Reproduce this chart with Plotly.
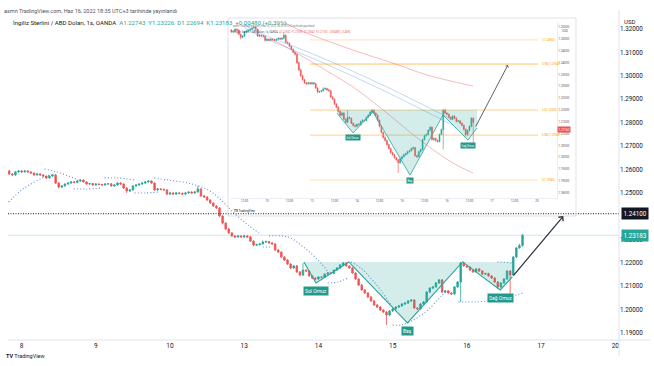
import plotly.graph_objects as go

W, H = 654, 366

# ---------------- data (hourly GBP/USD, bar 0 = Jun 8 00:00) ----------------
bars = list(range(-4, 163))
opens = [1.2593, 1.2580, 1.2576, 1.2589, 1.2593, 1.2589, 1.2593, 1.2589, 1.2584, 1.2576,
         1.2580, 1.2576, 1.2571, 1.2563, 1.2571, 1.2576, 1.2541, 1.2524, 1.2529, 1.2537,
         1.2541, 1.2546, 1.2544, 1.2550, 1.2554, 1.2546, 1.2537, 1.2539, 1.2533, 1.2537,
         1.2535, 1.2533, 1.2537, 1.2538, 1.2529, 1.2533, 1.2541, 1.2537, 1.2520, 1.2507,
         1.2512, 1.2529, 1.2533, 1.2537, 1.2541, 1.2546, 1.2550, 1.2541, 1.2512, 1.2516,
         1.2514, 1.2512, 1.2494, 1.2499, 1.2494, 1.2499, 1.2497, 1.2494, 1.2499, 1.2503,
         1.2499, 1.2503, 1.2516, 1.2486, 1.2482, 1.2469, 1.2456, 1.2443, 1.2435, 1.2400,
         1.2370, 1.2345, 1.2328, 1.2315, 1.2311, 1.2315, 1.2311, 1.2315, 1.2311, 1.2293,
         1.2276, 1.2278, 1.2281, 1.2289, 1.2291, 1.2285, 1.2281, 1.2255, 1.2246, 1.2225,
         1.2212, 1.2195, 1.2178, 1.2187, 1.2161, 1.2148, 1.2169, 1.2165, 1.2144, 1.2135,
         1.2131, 1.2140, 1.2138, 1.2152, 1.2157, 1.2155, 1.2169, 1.2178, 1.2191, 1.2199,
         1.2187, 1.2178, 1.2157, 1.2131, 1.2105, 1.2084, 1.2071, 1.2054, 1.2037, 1.2020,
         1.2011, 1.1998, 1.1990, 1.1977, 1.1994, 1.2003, 1.2011, 1.2016, 1.2024, 1.2028,
         1.2037, 1.2041, 1.2007, 1.2003, 1.2024, 1.2033, 1.2075, 1.2092, 1.2097, 1.2114,
         1.2127, 1.2075, 1.2080, 1.2071, 1.2067, 1.2097, 1.2118, 1.2199, 1.2187, 1.2182,
         1.2169, 1.2161, 1.2174, 1.2165, 1.2152, 1.2154, 1.2144, 1.2135, 1.2118, 1.2097,
         1.2114, 1.2131, 1.2165, 1.2148, 1.2225, 1.2264, 1.22743]
highs = [1.2598, 1.2584, 1.2593, 1.2597, 1.2597, 1.2596, 1.2596, 1.2592, 1.2587, 1.2584,
         1.2583, 1.2579, 1.2574, 1.2575, 1.2580, 1.2579, 1.2545, 1.2533, 1.2540, 1.2545,
         1.2550, 1.2549, 1.2553, 1.2558, 1.2557, 1.2549, 1.2542, 1.2542, 1.2540, 1.2540,
         1.2538, 1.2541, 1.2541, 1.2541, 1.2536, 1.2545, 1.2545, 1.2540, 1.2523, 1.2516,
         1.2532, 1.2537, 1.2540, 1.2545, 1.2550, 1.2554, 1.2553, 1.2544, 1.2520, 1.2519,
         1.2518, 1.2515, 1.2503, 1.2502, 1.2502, 1.2502, 1.2500, 1.2502, 1.2506, 1.2506,
         1.2507, 1.2529, 1.2519, 1.2490, 1.2485, 1.2472, 1.2459, 1.2447, 1.2438, 1.2404,
         1.2374, 1.2349, 1.2332, 1.2319, 1.2318, 1.2318, 1.2319, 1.2319, 1.2315, 1.2296,
         1.2282, 1.2285, 1.2296, 1.2295, 1.2294, 1.2289, 1.2284, 1.2259, 1.2249, 1.2229,
         1.2216, 1.2199, 1.2191, 1.2191, 1.2165, 1.2199, 1.2173, 1.2168, 1.2148, 1.2139,
         1.2143, 1.2144, 1.2155, 1.2160, 1.2161, 1.2172, 1.2182, 1.2195, 1.2204, 1.2203,
         1.2190, 1.2182, 1.2160, 1.2134, 1.2109, 1.2088, 1.2075, 1.2058, 1.2041, 1.2024,
         1.2015, 1.2002, 1.1994, 1.1998, 1.2007, 1.2015, 1.2020, 1.2028, 1.2032, 1.2041,
         1.2045, 1.2044, 1.2011, 1.2028, 1.2037, 1.2079, 1.2096, 1.2101, 1.2118, 1.2131,
         1.2131, 1.2084, 1.2084, 1.2075, 1.2101, 1.2122, 1.2204, 1.2206, 1.2191, 1.2186,
         1.2173, 1.2178, 1.2178, 1.2169, 1.2158, 1.2158, 1.2148, 1.2139, 1.2122, 1.2118,
         1.2135, 1.2169, 1.2169, 1.2229, 1.2268, 1.2282, 1.23226]
lows = [1.2576, 1.2571, 1.2572, 1.2586, 1.2585, 1.2586, 1.2586, 1.2581, 1.2572, 1.2573,
        1.2572, 1.2567, 1.2559, 1.2560, 1.2568, 1.2537, 1.2518, 1.2520, 1.2526, 1.2534,
        1.2538, 1.2541, 1.2541, 1.2547, 1.2543, 1.2534, 1.2534, 1.2530, 1.2530, 1.2532,
        1.2530, 1.2530, 1.2534, 1.2526, 1.2525, 1.2530, 1.2534, 1.2516, 1.2498, 1.2503,
        1.2509, 1.2526, 1.2530, 1.2534, 1.2538, 1.2543, 1.2538, 1.2508, 1.2508, 1.2510,
        1.2508, 1.2490, 1.2490, 1.2491, 1.2491, 1.2493, 1.2490, 1.2491, 1.2496, 1.2496,
        1.2496, 1.2500, 1.2482, 1.2478, 1.2465, 1.2452, 1.2439, 1.2430, 1.2395, 1.2364,
        1.2340, 1.2323, 1.2310, 1.2306, 1.2307, 1.2307, 1.2306, 1.2307, 1.2289, 1.2271,
        1.2272, 1.2274, 1.2278, 1.2285, 1.2281, 1.2277, 1.2251, 1.2242, 1.2221, 1.2208,
        1.2191, 1.2173, 1.2174, 1.2157, 1.2143, 1.2144, 1.2161, 1.2140, 1.2130, 1.2126,
        1.2127, 1.2134, 1.2135, 1.2148, 1.2151, 1.2152, 1.2166, 1.2175, 1.2187, 1.2183,
        1.2174, 1.2153, 1.2127, 1.2101, 1.2080, 1.2067, 1.2050, 1.2033, 1.2016, 1.2007,
        1.1994, 1.1985, 1.1934, 1.1972, 1.1990, 1.1999, 1.2007, 1.2012, 1.2020, 1.2024,
        1.2033, 1.2003, 1.1998, 1.2000, 1.2020, 1.2030, 1.2071, 1.2088, 1.2093, 1.2110,
        1.2071, 1.2071, 1.2067, 1.2062, 1.2063, 1.2093, 1.2033, 1.2183, 1.2178, 1.2165,
        1.2157, 1.2157, 1.2161, 1.2148, 1.2148, 1.2140, 1.2131, 1.2114, 1.2088, 1.2093,
        1.2110, 1.2127, 1.2054, 1.2144, 1.2221, 1.2260, 1.22694]
closes = [1.2580, 1.2576, 1.2589, 1.2593, 1.2589, 1.2593, 1.2589, 1.2584, 1.2576, 1.2580,
          1.2576, 1.2571, 1.2563, 1.2571, 1.2576, 1.2541, 1.2524, 1.2529, 1.2537, 1.2541,
          1.2546, 1.2544, 1.2550, 1.2554, 1.2546, 1.2537, 1.2539, 1.2533, 1.2537, 1.2535,
          1.2533, 1.2537, 1.2538, 1.2529, 1.2533, 1.2541, 1.2537, 1.2520, 1.2507, 1.2512,
          1.2529, 1.2533, 1.2537, 1.2541, 1.2546, 1.2550, 1.2541, 1.2512, 1.2516, 1.2514,
          1.2512, 1.2494, 1.2499, 1.2494, 1.2499, 1.2497, 1.2494, 1.2499, 1.2503, 1.2499,
          1.2503, 1.2516, 1.2486, 1.2482, 1.2469, 1.2456, 1.2443, 1.2435, 1.2400, 1.2370,
          1.2345, 1.2328, 1.2315, 1.2311, 1.2315, 1.2311, 1.2315, 1.2311, 1.2293, 1.2276,
          1.2278, 1.2281, 1.2289, 1.2291, 1.2285, 1.2281, 1.2255, 1.2246, 1.2225, 1.2212,
          1.2195, 1.2178, 1.2187, 1.2161, 1.2148, 1.2169, 1.2165, 1.2144, 1.2135, 1.2131,
          1.2140, 1.2138, 1.2152, 1.2157, 1.2155, 1.2169, 1.2178, 1.2191, 1.2199, 1.2187,
          1.2178, 1.2157, 1.2131, 1.2105, 1.2084, 1.2071, 1.2054, 1.2037, 1.2020, 1.2011,
          1.1998, 1.1990, 1.1977, 1.1994, 1.2003, 1.2011, 1.2016, 1.2024, 1.2028, 1.2037,
          1.2041, 1.2007, 1.2003, 1.2024, 1.2033, 1.2075, 1.2092, 1.2097, 1.2114, 1.2127,
          1.2075, 1.2080, 1.2071, 1.2067, 1.2097, 1.2118, 1.2199, 1.2187, 1.2182, 1.2169,
          1.2161, 1.2174, 1.2165, 1.2152, 1.2154, 1.2144, 1.2135, 1.2118, 1.2097, 1.2114,
          1.2131, 1.2165, 1.2148, 1.2225, 1.2264, 1.22743, 1.23183]

day_ticks = [0, 24, 48, 72, 96, 120, 144, 168, 192]
day_labels = ["8", "9", "10", "13", "14", "15", "16", "17", "20"]
price_ticks = [1.19, 1.20, 1.21, 1.22, 1.23, 1.25, 1.26, 1.27, 1.28, 1.29, 1.30, 1.31, 1.32]

# parabolic-SAR style dotted segments (bar, price)
sar_segments = [
    [(-4.2, 1.2460), (0, 1.2512), (4.2, 1.2546), (7.4, 1.2567), (9.7, 1.2580)],
    [(7.4, 1.2601), (11.3, 1.2589), (15.2, 1.2571), (18.4, 1.2554)],
    [(16.8, 1.2516), (21, 1.2516), (25.8, 1.2520)],
    [(26.8, 1.2563), (31.3, 1.2563), (36.5, 1.2554)],
    [(36.5, 1.2499), (40.3, 1.2499), (44.2, 1.2503)],
    [(42.9, 1.2563), (47.4, 1.2554), (53.9, 1.2541), (60.3, 1.2512), (64.5, 1.2469),
     (68.7, 1.2413), (73.2, 1.2362), (76.8, 1.2328)],
    [(78, 1.2268), (80.6, 1.2268)],
    [(80, 1.2315), (83.9, 1.2315), (87.1, 1.2306), (90.3, 1.2276), (93.5, 1.2242),
     (96.8, 1.2199), (99.4, 1.2157)],
    [(99, 1.2114), (102.3, 1.2118), (105.5, 1.2135)],
    [(106.5, 1.2204), (109.7, 1.2178), (112.9, 1.2135), (116.1, 1.2084), (119.4, 1.2020)],
    [(120, 1.1934), (122.6, 1.1934), (126.8, 1.1956), (131.3, 1.1998), (135.5, 1.2054),
     (137.7, 1.2084)],
    [(141.3, 1.2033), (146.8, 1.2033), (152.6, 1.2041), (157.4, 1.2054), (162.3, 1.2071)],
    [(153.9, 1.2204), (158.7, 1.2199)],
]

# inverse head & shoulders (main chart)
hs_bars = [91.3, 95.2, 105.8, 124.8, 142.6, 154.8, 158.7]
hs_prices = [1.2204, 1.2114, 1.2204, 1.1943, 1.2204, 1.2084, 1.2140]
hs_neck = 1.2204
hs_label_text = ["Sol Omuz", "Baş", "Sağ Omuz"]
target_price = 1.24100
arrow_tip = (175.2, 1.2400)
last_price = 1.23183

# ---------------- inset (earlier snapshot of the same chart) ----------------
inset_first, inset_last = 28, 158
ins_hs_bars = [85.3, 93.9, 104.5, 124.3, 141.9, 155.2, 160.0]
ins_hs_prices = [1.2187, 1.2103, 1.2192, 1.1925, 1.2179, 1.2073, 1.2124]
ins_neck = 1.2200
ma_slow_bars = [55, 64, 93.9, 115.2, 133.3, 157.9]
ma_slow_prices = [1.2580, 1.2542, 1.2453, 1.2398, 1.2348, 1.2301]
ma_fast_bars = [50, 56.5, 76.3, 93.9, 112, 129.6, 147.2, 157.9]
ma_fast_prices = [1.2500, 1.2474, 1.2382, 1.2297, 1.2187, 1.2073, 1.1976, 1.1934]
blue1_bars = [36, 44.3, 76.3, 112, 147.2]
blue1_prices = [1.2560, 1.2525, 1.2424, 1.2297, 1.2158]
blue2_bars = [36, 44.3, 76.3, 112, 147.2]
blue2_prices = [1.2548, 1.2512, 1.2405, 1.2275, 1.2135]
fib_levels = [1.2496, 1.2394, 1.2200, 1.2094, 1.1904]
fib_labels = ["1(1.24960)", "0.786(1.23940)", "0.5(1.22000)", "0.382(1.20940)", "0(1.19040)"]
fib_start, fib_end = 70.9, 192.5
ins_tick_bars = [36, 48, 60, 72, 84, 96, 108, 120, 132, 144, 156, 168, 180, 192]
ins_tick_labels = ["12:00", "10", "12:00", "13", "12:00", "14", "12:00", "15", "12:00",
                   "16", "12:00", "17", "12:00", "20"]
ins_price_ticks = [1.185, 1.19, 1.195, 1.20, 1.205, 1.21, 1.215, 1.22, 1.225, 1.23,
                   1.235, 1.24, 1.245, 1.25, 1.255]
ins_arrow = ((158.9, 1.2124), (176.5, 1.2390))
ins_last_price = 1.2116

GREEN = "#26a69a"
RED = "#ef5350"
TXT = "#131722"
FONT = "Roboto"


def dom_x(a, b):
    return [a / W, b / W]


def dom_y(top, bottom):
    return [1 - bottom / H, 1 - top / H]


fig = go.Figure()

# ---- main chart ----
fig.add_trace(go.Candlestick(
    x=bars, open=opens, high=highs, low=lows, close=closes,
    increasing=dict(line=dict(color=GREEN, width=0.8), fillcolor=GREEN),
    decreasing=dict(line=dict(color=RED, width=0.8), fillcolor=RED),
    whiskerwidth=0, showlegend=False, hoverinfo="skip", xaxis="x", yaxis="y"))

sx, sy = [], []
for seg in sar_segments:
    for b, p in seg:
        sx.append(b)
        sy.append(p)
    sx.append(None)
    sy.append(None)
fig.add_trace(go.Scatter(x=sx, y=sy, mode="lines",
                         line=dict(color="#3d6fe0", width=1.1, dash="1px,2.2px", shape="spline"),
                         opacity=0.8, showlegend=False, hoverinfo="skip", xaxis="x", yaxis="y"))

fig.add_trace(go.Scatter(x=hs_bars + [hs_bars[-1], hs_bars[0]],
                         y=hs_prices + [hs_neck, hs_neck], mode="lines", fill="toself",
                         fillcolor="rgba(38,166,154,0.20)", line=dict(width=0),
                         showlegend=False, hoverinfo="skip", xaxis="x", yaxis="y"))
fig.add_trace(go.Scatter(x=hs_bars, y=hs_prices, mode="lines", line=dict(color=GREEN, width=1.1),
                         showlegend=False, hoverinfo="skip", xaxis="x", yaxis="y"))

# ---- inset chart ----
i0 = bars.index(inset_first)
i1 = bars.index(inset_last) + 1
for lv, col in zip(fib_levels, ["rgba(255,152,0,0.35)", "rgba(255,152,0,0.75)", "rgba(255,152,0,0.6)",
                                 "rgba(255,152,0,0.6)", "rgba(255,152,0,0.35)"]):
    fig.add_trace(go.Scatter(x=[fib_start, fib_end], y=[lv, lv], mode="lines", line=dict(color=col, width=0.8),
                             showlegend=False, hoverinfo="skip", xaxis="x2", yaxis="y2"))
fig.add_trace(go.Scatter(x=ma_slow_bars, y=ma_slow_prices, mode="lines",
                         line=dict(color="rgba(239,83,80,0.5)", width=0.8, shape="spline"),
                         showlegend=False, hoverinfo="skip", xaxis="x2", yaxis="y2"))
fig.add_trace(go.Scatter(x=ma_fast_bars, y=ma_fast_prices, mode="lines",
                         line=dict(color="rgba(239,83,80,0.5)", width=0.8, shape="spline"),
                         showlegend=False, hoverinfo="skip", xaxis="x2", yaxis="y2"))
fig.add_trace(go.Scatter(x=blue1_bars, y=blue1_prices, mode="lines",
                         line=dict(color="rgba(100,160,230,0.5)", width=0.8, shape="spline"),
                         showlegend=False, hoverinfo="skip", xaxis="x2", yaxis="y2"))
fig.add_trace(go.Scatter(x=blue2_bars, y=blue2_prices, mode="lines",
                         line=dict(color="rgba(100,160,230,0.5)", width=0.8, shape="spline"),
                         showlegend=False, hoverinfo="skip", xaxis="x2", yaxis="y2"))
fig.add_trace(go.Scatter(x=ins_hs_bars + [ins_hs_bars[-1], ins_hs_bars[0]],
                         y=ins_hs_prices + [ins_neck, ins_neck], mode="lines", fill="toself",
                         fillcolor="rgba(38,166,154,0.20)", line=dict(width=0),
                         showlegend=False, hoverinfo="skip", xaxis="x2", yaxis="y2"))
fig.add_trace(go.Scatter(x=ins_hs_bars, y=ins_hs_prices, mode="lines", line=dict(color=GREEN, width=0.8),
                         showlegend=False, hoverinfo="skip", xaxis="x2", yaxis="y2"))
fig.add_trace(go.Candlestick(
    x=bars[i0:i1], open=opens[i0:i1], high=highs[i0:i1], low=lows[i0:i1], close=closes[i0:i1],
    increasing=dict(line=dict(color=GREEN, width=0.6), fillcolor=GREEN),
    decreasing=dict(line=dict(color=RED, width=0.6), fillcolor=RED),
    whiskerwidth=0, showlegend=False, hoverinfo="skip", xaxis="x2", yaxis="y2"))

annotations = []
shapes = []

# main overlays
shapes.append(dict(type="line", xref="x", yref="y", x0=-4.4, x1=193.2, y0=target_price, y1=target_price,
                   line=dict(color=TXT, width=1, dash="1px,1.5px")))
shapes.append(dict(type="line", xref="x", yref="y", x0=-4.4, x1=193.2, y0=last_price, y1=last_price,
                   line=dict(color="rgba(38,166,154,0.25)", width=1)))
annotations.append(dict(x=arrow_tip[0], y=arrow_tip[1], ax=hs_bars[-1], ay=hs_prices[-1],
                        xref="x", yref="y", axref="x", ayref="y", showarrow=True, arrowhead=4,
                        arrowsize=1, arrowwidth=1.2, arrowcolor="#2a2e39", text=""))
for k, idx in enumerate([1, 3, 5]):
    annotations.append(dict(x=hs_bars[idx], y=hs_prices[idx], xref="x", yref="y", yshift=-8,
                            text=hs_label_text[k], showarrow=False, bgcolor="#22998b",
                            font=dict(color="white", size=5, family=FONT), borderpad=1))
annotations.append(dict(x=620.5 / W, y=target_price, xref="paper", yref="y", xanchor="left",
                        text="1.24100", showarrow=False, bgcolor="#131722",
                        font=dict(color="white", size=6.3, family=FONT), borderpad=1.5))
annotations.append(dict(x=620.5 / W, y=last_price, xref="paper", yref="y", xanchor="left",
                        text="1.23183", showarrow=False, bgcolor=GREEN,
                        font=dict(color="white", size=6.3, family=FONT), borderpad=1.5))
annotations.append(dict(x=622 / W, y=1 - 16 / H, xref="paper", yref="paper", xanchor="left",
                        text="USD", showarrow=False, font=dict(color=TXT, size=6, family=FONT)))
annotations.append(dict(x=2 / W, y=1 - 6 / H, xref="paper", yref="paper", xanchor="left",
                        text="asmn TradingView.com, Haz 16, 2022 18:35 UTC+3 tarihinde yayınlandı",
                        showarrow=False, font=dict(color="#50535e", size=5.5, family=FONT)))
annotations.append(dict(x=11 / W, y=1 - 17 / H, xref="paper", yref="paper", xanchor="left",
                        text="İngiliz Sterlini / ABD Doları, 1s, OANDA  <span style='color:#26a69a'>"
                             "A1.22743  Y1.23226  D1.22694  K1.23183  +0.00480 (+0.39%)</span>",
                        showarrow=False, font=dict(color=TXT, size=6.1, family=FONT)))
annotations.append(dict(x=4 / W, y=1 - 361 / H, xref="paper", yref="paper", xanchor="left",
                        text="<b>TV</b> TradingView", showarrow=False,
                        font=dict(color=TXT, size=5.5, family=FONT)))

# inset overlays
for lv, lab in zip(fib_levels, fib_labels):
    annotations.append(dict(x=fib_end + 1, y=lv, xref="x2", yref="y2", xanchor="left", text=lab,
                            showarrow=False, font=dict(color="#ff9800", size=2.6, family=FONT)))
annotations.append(dict(x=ins_arrow[1][0], y=ins_arrow[1][1], ax=ins_arrow[0][0], ay=ins_arrow[0][1],
                        xref="x2", yref="y2", axref="x2", ayref="y2", showarrow=True, arrowhead=4,
                        arrowsize=0.7, arrowwidth=0.9, arrowcolor="#4a4e59", text=""))
for k, idx in enumerate([1, 3, 5]):
    annotations.append(dict(x=ins_hs_bars[idx], y=ins_hs_prices[idx], xref="x2", yref="y2", yshift=-5,
                            text=hs_label_text[k], showarrow=False, bgcolor="#22998b",
                            font=dict(color="white", size=2.8, family=FONT), borderpad=0.5))
annotations.append(dict(x=557 / W, y=ins_last_price, xref="paper", yref="y2", xanchor="left",
                        text="1.21160", showarrow=False, bgcolor=RED,
                        font=dict(color="white", size=3, family=FONT), borderpad=0.5))
annotations.append(dict(x=560 / W, y=1 - 27 / H, xref="paper", yref="paper", xanchor="left",
                        text="USD", showarrow=False, font=dict(color="#50535e", size=3, family=FONT)))
annotations.append(dict(x=231 / W, y=1 - 21.5 / H, xref="paper", yref="paper", xanchor="left",
                        text="asmn TradingView.com, Haz 16, 2022 18:33 UTC+3 tarihinde yayınlandı",
                        showarrow=False, font=dict(color="#787b86", size=2.6, family=FONT)))
annotations.append(dict(x=232 / W, y=1 - 27 / H, xref="paper", yref="paper", xanchor="left",
                        text="İngiliz Sterlini / ABD Doları, 1s, OANDA  <span style='color:#ef5350'>"
                             "A1.21652  Y1.21690  D1.20541  K1.21160  −0.00490 (−0.40%)</span>",
                        showarrow=False, font=dict(color="#50535e", size=2.6, family=FONT)))
annotations.append(dict(x=232 / W, y=1 - 211 / H, xref="paper", yref="paper", xanchor="left",
                        text="<b>TV</b> TradingView", showarrow=False,
                        font=dict(color=TXT, size=3, family=FONT)))

# frames
shapes.append(dict(type="rect", xref="paper", yref="paper", x0=228 / W, x1=576 / W,
                   y0=1 - 216 / H, y1=1 - 18 / H, line=dict(color="#d1d4dc", width=0.7)))
shapes.append(dict(type="line", xref="paper", yref="paper", x0=8 / W, x1=650 / W,
                   y0=1 - 340 / H, y1=1 - 340 / H, line=dict(color="#e0e3eb", width=1)))
shapes.append(dict(type="line", xref="paper", yref="paper", x0=619 / W, x1=619 / W,
                   y0=1 - 356 / H, y1=1 - 10 / H, line=dict(color="#e0e3eb", width=1)))

fig.update_layout(
    width=W, height=H, margin=dict(l=0, r=0, t=0, b=0),
    paper_bgcolor="white", plot_bgcolor="white",
    font=dict(family=FONT, color=TXT),
    showlegend=False,
    xaxis=dict(domain=dom_x(8, 619), range=[-4.4, 193.2], tickvals=day_ticks, ticktext=day_labels,
               showgrid=False, zeroline=False, showline=False, ticks="",
               tickfont=dict(size=6.5, color=TXT), rangeslider=dict(visible=False), fixedrange=True),
    yaxis=dict(domain=dom_y(12, 340), range=[1.18701, 1.32727], side="right", tickvals=price_ticks,
               tickformat=".5f", showgrid=False, zeroline=False, showline=False, ticks="",
               tickfont=dict(size=6.3, color=TXT), fixedrange=True),
    xaxis2=dict(domain=dom_x(230, 557), range=[28.27, 202.67], anchor="y2", tickvals=ins_tick_bars,
                ticktext=ins_tick_labels, showgrid=False, zeroline=False, showline=True,
                linecolor="#e0e3eb", linewidth=0.6, ticks="", tickfont=dict(size=3, color="#50535e"),
                rangeslider=dict(visible=False), fixedrange=True),
    yaxis2=dict(domain=dom_y(22, 198), range=[1.18284, 1.25716], anchor="x2", side="right",
                tickvals=ins_price_ticks, tickformat=".5f", showgrid=False, zeroline=False,
                showline=True, linecolor="#e0e3eb", linewidth=0.6, ticks="",
                tickfont=dict(size=3, color="#50535e"), fixedrange=True),
    annotations=annotations, shapes=shapes,
)

fig.write_html("out.html", config={"displayModeBar": False, "staticPlot": True},
               post_script="document.body.style.margin='0px';document.body.style.overflow='hidden';")
